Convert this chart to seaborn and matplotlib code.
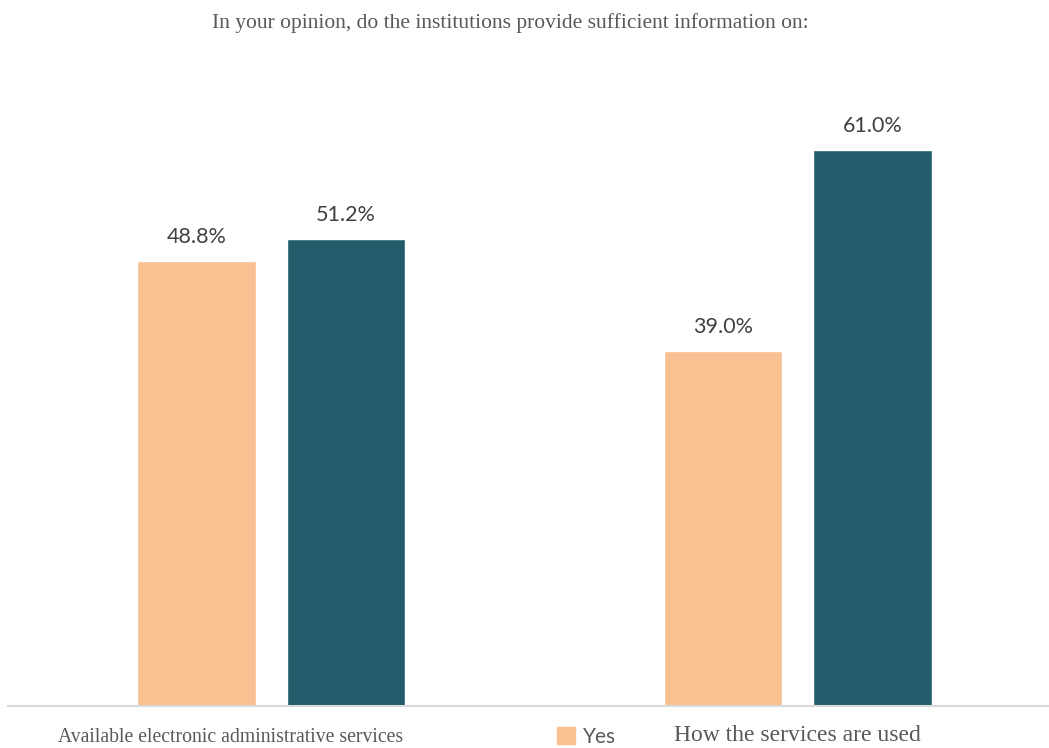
import matplotlib
matplotlib.use("Agg")
import matplotlib.pyplot as plt
import matplotlib.transforms as mtransforms
import seaborn as sns
import pandas as pd

categories = ["Available electronic administrative services", "How the services are used"]
answers = ["Yes", "No"]
yes_values = [48.8, 39.0]
no_values = [51.2, 61.0]
title = "In your opinion, do the institutions provide sufficient information on:"

palette = {"Yes": "#F9C091", "No": "#225B69"}
text_gray = "#595959"

df = pd.DataFrame({
    "category": categories * 2,
    "answer": ["Yes"] * len(categories) + ["No"] * len(categories),
    "value": yes_values + no_values,
})

sns.set_theme(style="white")
plt.rcParams["font.family"] = ["Liberation Serif", "DejaVu Serif"]

fig = plt.figure(figsize=(10.49, 7.48), dpi=100)
ax = fig.add_axes([8 / 1049, 42 / 748, 1053 / 1049, 638 / 748])

sns.barplot(data=df, x="category", y="value", hue="answer", hue_order=answers,
            order=categories, palette=palette, width=0.568, gap=0.21,
            saturation=1, ax=ax, legend=False)

ax.set_xlim(-0.5, 1.5)
ax.set_ylim(0, 70)
ax.set_xlabel("")
ax.set_ylabel("")
ax.set_yticks([])
for side in ["left", "right", "top"]:
    ax.spines[side].set_visible(False)
ax.spines["bottom"].set_color("#D9D9D9")
ax.spines["bottom"].set_linewidth(1.5)
ax.tick_params(axis="x", length=0, pad=14, labelsize=17, labelcolor=text_gray)

# The long first label is set smaller and shifted left to leave room for the legend
labels = ax.get_xticklabels()
labels[0].set_fontsize(14.2)
labels[0].set_transform(labels[0].get_transform() +
                        mtransforms.ScaledTranslation(-0.405, -0.025, fig.dpi_scale_trans))

for container in ax.containers:
    ax.bar_label(container, labels=[f"{v:.1f}%" for v in container.datavalues],
                 padding=10, fontsize=15.5, color="#404040", family=["Lato", "DejaVu Sans"])

fig.text(510 / 1049, 1 - 23 / 748, title, ha="center", va="center",
         fontsize=15.5, color=text_gray)

# Legend: only the first entry fits on the canvas
handles = [plt.Rectangle((0, 0), 1, 1, color=palette["Yes"])]
fig.legend(handles, ["Yes"], loc="upper left", bbox_to_anchor=(557 / 1049, 1 - 727 / 748),
           frameon=False, handlelength=0.85, handleheight=0.85, handletextpad=0.4,
           borderaxespad=0, borderpad=0,
           prop={"family": ["Lato", "DejaVu Sans"], "size": 15}, labelcolor=text_gray)

fig.savefig("out.png", dpi=100)
